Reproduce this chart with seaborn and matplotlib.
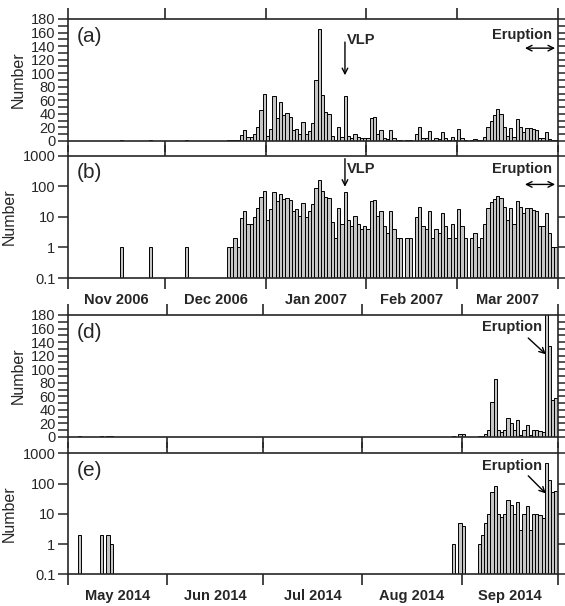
import numpy as np
import pandas as pd
import matplotlib
matplotlib.use("Agg")
import matplotlib.pyplot as plt
import seaborn as sns
from matplotlib.ticker import NullLocator

# daily event counts, day 0 = 1 Nov 2006 (only days with events)
days_2007 = [16, 25, 36,
             49, 50, 51, 52, 53, 54, 55, 56, 57, 58, 59,
             60, 61, 62, 63, 64, 65, 66, 67, 68, 69,
             70, 71, 72, 73, 74, 75, 76, 77, 78, 79,
             80, 81, 82, 83, 84, 85, 86, 87, 88, 89,
             90, 91, 92, 93, 94, 95, 96, 97, 98, 99,
             100, 101, 102, 104, 105, 107, 108, 109,
             110, 111, 112, 113, 114, 115, 116, 117, 118, 119,
             120, 121, 122, 124, 125, 126, 127, 128, 129,
             130, 131, 132, 133, 134, 135, 136, 137, 138, 139,
             140, 141, 142, 143, 144, 145, 146, 147, 148, 149, 150]
counts_2007 = [1, 1, 1,
               1, 1, 2, 1, 9, 16, 6, 6, 10, 20, 46,
               69, 8, 18, 67, 34, 58, 38, 42, 36, 16,
               18, 11, 28, 10, 15, 27, 90, 165, 68, 43,
               40, 7, 2, 20, 6, 67, 8, 5, 11, 6,
               4, 5, 4, 34, 35, 11, 16, 5, 3, 16,
               4, 2, 2, 2, 2, 10, 21, 5,
               4, 15, 2, 4, 3, 13, 5, 2, 6, 2,
               18, 5, 2, 2, 3, 1, 2, 6, 20,
               30, 38, 47, 40, 21, 8, 19, 6, 32, 21,
               13, 19, 19, 17, 16, 5, 5, 13, 3, 1, 1]
months_2007 = ["Nov 2006", "Dec 2006", "Jan 2007", "Feb 2007", "Mar 2007"]
edges_2007 = [0, 30, 61, 92, 120, 151]

# day 0 = 1 May 2014
days_2014 = [3, 10, 12, 13, 120, 122, 123, 128, 129,
             130, 131, 132, 133, 134, 135, 136, 137, 138, 139,
             140, 141, 142, 143, 144, 145, 146, 147, 148, 149,
             150, 151, 152]
counts_2014 = [2, 2, 2, 1, 1, 5, 4, 1, 2,
               5, 10, 52, 85, 10, 8, 10, 28, 20, 10,
               25, 3, 10, 18, 3, 10, 10, 9, 7, 480,
               135, 54, 58]
months_2014 = ["May 2014", "Jun 2014", "Jul 2014", "Aug 2014", "Sep 2014"]
edges_2014 = [0, 31, 61, 92, 123, 153]

sns.set_style("ticks")
plt.rcParams["font.family"] = ["Liberation Sans", "DejaVu Sans"]

df07 = pd.DataFrame({"day": np.array(days_2007) + 0.5, "count": counts_2007})
df14 = pd.DataFrame({"day": np.array(days_2014) + 0.5, "count": counts_2014})

fig = plt.figure(figsize=(5.65, 6.06), dpi=100)
L, W = 68 / 565, 489.7 / 565
ax_a = fig.add_axes([L, 1 - 141 / 606, W, 122 / 606])
ax_b = fig.add_axes([L, 1 - 278 / 606, W, 122.3 / 606])
ax_d = fig.add_axes([L, 1 - 437 / 606, W, 122 / 606])
ax_e = fig.add_axes([L, 1 - 574.3 / 606, W, 121 / 606])


def panel(ax, df, edges, months, log, letter, show_months):
    sns.barplot(data=df, x="day", y="count", native_scale=True, width=1,
                color="#c6c6c6", saturation=1, edgecolor="black",
                linewidth=0.7, errorbar=None, ax=ax)
    ax.set_xlim(edges[0], edges[-1])
    ax.set_xticks(edges)
    mids = [(edges[i] + edges[i + 1]) / 2 for i in range(len(months))]
    ax.set_xticks(mids, minor=True)
    ax.set_xticklabels(months, minor=True, fontweight="bold", fontsize=10.5)
    ax.tick_params(axis="x", which="major", direction="out", length=8,
                   width=1.2, top=True, bottom=True, labelbottom=False)
    ax.tick_params(axis="x", which="minor", length=0, pad=10.5,
                   labelbottom=show_months)
    if log:
        ax.set_yscale("log")
        ax.set_ylim(0.1, 1000)
        ax.set_yticks([0.1, 1, 10, 100, 1000])
        ax.set_yticklabels(["0.1", "1", "10", "100", "1000"])
        ax.yaxis.set_minor_locator(NullLocator())
    else:
        ax.set_ylim(0, 180)
        ax.set_yticks(range(0, 181, 20))
        ax.set_yticks(range(10, 180, 20), minor=True)
    ax.tick_params(axis="y", which="both", direction="out", length=7,
                   width=1.1, left=True, right=True, labelsize=10.5, pad=2)
    for s in ax.spines.values():
        s.set_linewidth(1.2)
        s.set_visible(True)
    ax.set_xlabel("")
    ax.set_ylabel("Number", fontsize=11.5, labelpad=4)
    ax.text(0.018, 0.86, letter, transform=ax.transAxes, fontsize=15,
            va="center", ha="left")


panel(ax_a, df07, edges_2007, months_2007, False, "(a)", False)
panel(ax_b, df07, edges_2007, months_2007, True, "(b)", True)
panel(ax_d, df14, edges_2014, months_2014, False, "(d)", False)
panel(ax_e, df14, edges_2014, months_2014, True, "(e)", True)

arrow = dict(arrowstyle="->", lw=1, color="black", shrinkA=0, shrinkB=0)
both = dict(arrowstyle="<->", lw=1, color="black", shrinkA=0, shrinkB=0)

# VLP markers
ax_a.annotate("", xy=(85.4, 97), xytext=(85.4, 146), arrowprops=arrow)
ax_a.text(86.0, 149, "VLP", fontsize=10.5, fontweight="bold", va="center")
ax_b.annotate("", xy=(85.4, 96), xytext=(85.4, 800), arrowprops=arrow)
ax_b.text(86.0, 355, "VLP", fontsize=10.5, fontweight="bold", va="center")

# eruption period 2007
ax_a.text(140, 156, "Eruption", fontsize=10.5, fontweight="bold",
          ha="center", va="center")
ax_a.annotate("", xy=(150.2, 137), xytext=(140.9, 137), arrowprops=both)
ax_b.text(140, 355, "Eruption", fontsize=10.5, fontweight="bold",
          ha="center", va="center")
ax_b.annotate("", xy=(150.2, 115), xytext=(140.9, 115), arrowprops=both)

# eruption 2014
ax_d.text(138.6, 163, "Eruption", fontsize=10.5, fontweight="bold",
          ha="center", va="center")
ax_d.annotate("", xy=(149.3, 122), xytext=(143.8, 146), arrowprops=arrow)
ax_e.text(138.6, 383, "Eruption", fontsize=10.5, fontweight="bold",
          ha="center", va="center")
ax_e.annotate("", xy=(149.3, 47), xytext=(143.8, 180), arrowprops=arrow)

fig.savefig("out.png", dpi=100)
